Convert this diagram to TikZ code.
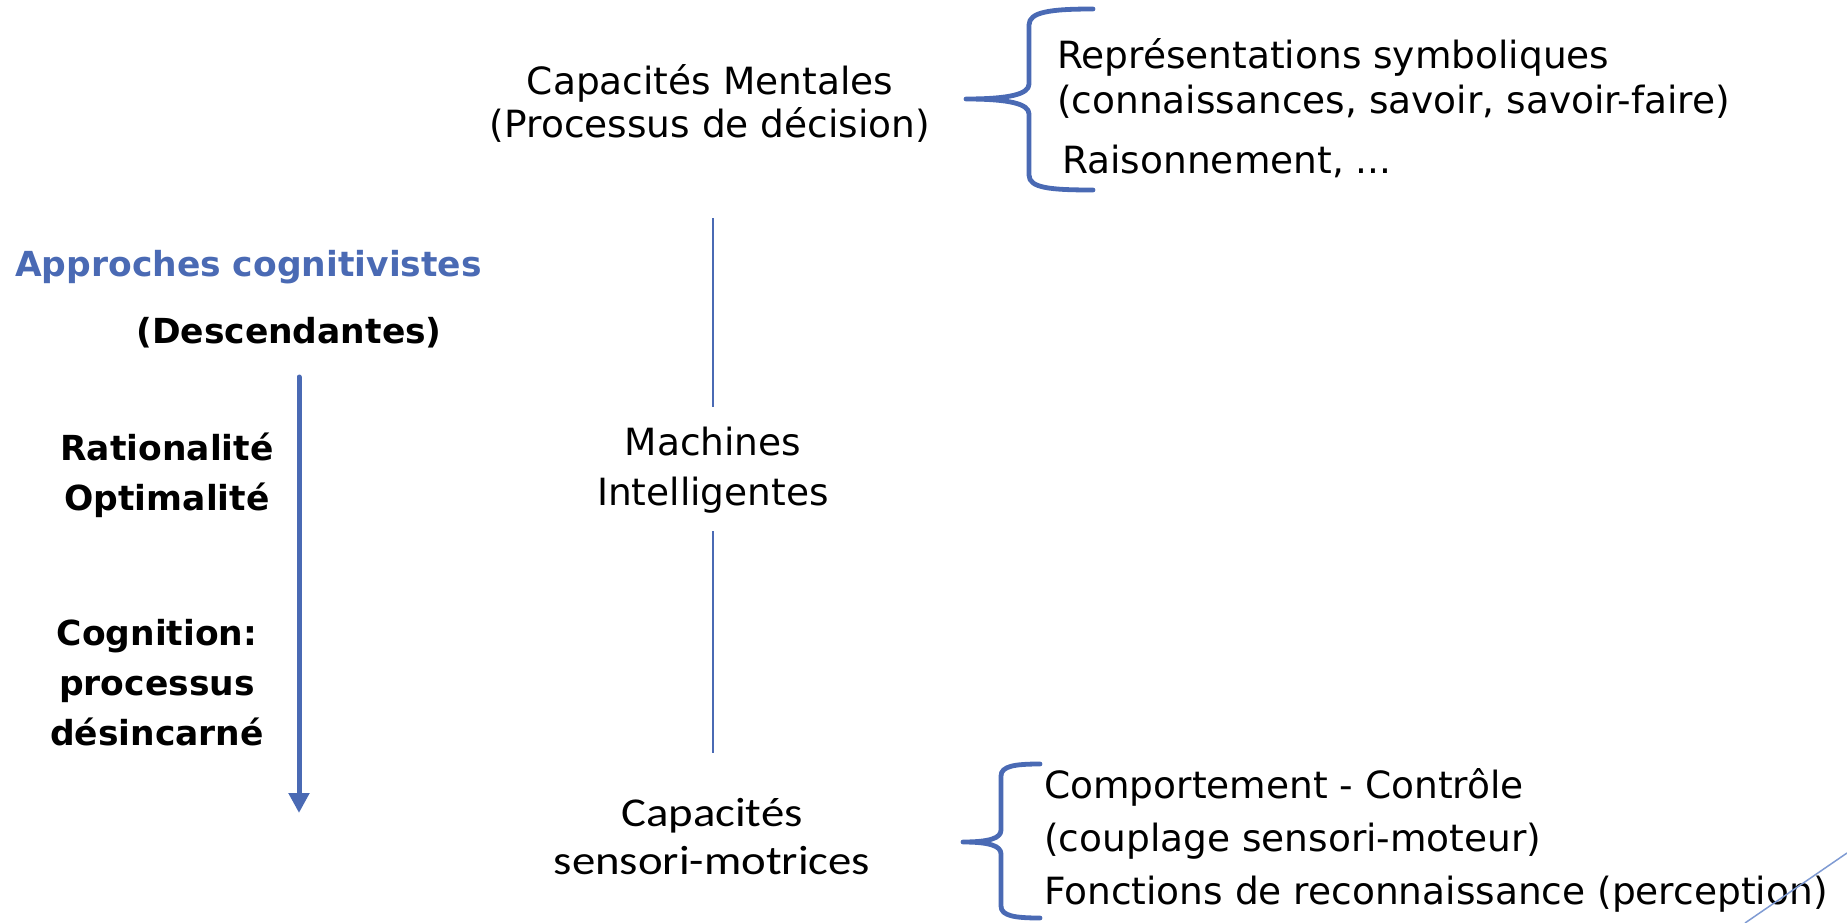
\documentclass[tikz,border=0pt]{standalone}
\usepackage{fontspec}
\setmainfont{DejaVu Sans}
\newfontfamily\carl[FakeStretch=1.14]{Carlito}
\usetikzlibrary{arrows.meta}
\definecolor{accent}{HTML}{4A6AB4}
\definecolor{thinblue}{HTML}{7F9BD3}

\begin{document}
\begin{tikzpicture}[x=1pt,y=-1pt,
  plain/.style={inner sep=0pt, align=center},
  midtxt/.style={plain, font=\fontsize{37.5}{43}\selectfont},
  listtxt/.style={inner sep=0pt, align=left, anchor=west},
  boldtxt/.style={plain, font=\fontsize{34.5}{50}\selectfont\bfseries},
  vline/.style={accent, line width=2.5pt},
  brace/.style={accent, line width=4.8pt, line cap=round, line join=round},
  axis/.style={accent, line width=5pt, line cap=round,
    -{Triangle[width=20pt,length=20pt]}}]
\useasboundingbox (0,0) rectangle (1847,923);

% central column
\node[midtxt] (capM) at (710,103) {Capacités Mentales\\(Processus de décision)};
\node[plain, font=\fontsize{37.5}{50}\selectfont] (machines) at (713,470) {Machines\\Intelligentes};
\node[plain, font=\carl\fontsize{41}{48}\selectfont] (capS) at (712,837) {Capacités\\sensori-motrices};
\draw[vline, shorten >=20pt] ([yshift=-76pt]capM.south -| machines.north) -- (machines.north);
\draw[vline, shorten <=18pt] (machines.south) -- ([yshift=46pt]machines.south |- capS.north);

% upper list and its brace
\node[listtxt, font=\fontsize{37.5}{45}\selectfont] (symb) at (1057,78) {Représentations symboliques\\(connaissances, savoir, savoir-faire)};
\node[listtxt, font=\fontsize{37.5}{45}\selectfont] (rais) at (1062,161) {Raisonnement, ...};
\draw[brace] (1093,9) .. controls (1050,9) and (1029,12) .. (1029,25)
  -- (1029,84) .. controls (1029,94) and (1010,99) .. (966,99)
  .. controls (1010,99) and (1029,104) .. (1029,114)
  -- (1029,175) .. controls (1029,188) and (1050,190) .. (1093,190);

% lower list and its brace
\node[listtxt, font=\fontsize{37.5}{53}\selectfont] (comp) at (1044,840) {Comportement - Contrôle\\(couplage sensori-moteur)\\Fonctions de reconnaissance (perception)};
\draw[brace] (1040,764) .. controls (1015,764) and (1001,766) .. (1001,776)
  -- (1001,830) .. controls (1001,838) and (990,842) .. (963,842)
  .. controls (990,842) and (1001,846) .. (1001,854)
  -- (1001,906) .. controls (1001,916) and (1015,918) .. (1040,918);

% left column
\node[boldtxt, text=accent, anchor=west] (appr) at (15,267) {Approches cognitivistes};
\node[boldtxt] (desc) at (289,333) {(Descendantes)};
\node[boldtxt] (ratio) at (167,475) {Rationalité\\Optimalité};
\node[boldtxt] (cogn) at (157,683) {Cognition:\\processus\\désincarné};
\coordinate (axisTop) at (299,377);
\coordinate (axisEnd) at (299,813);
\draw[axis] (axisTop) -- (axisEnd);

% corner stroke
\draw[thinblue, line width=1.5pt] (1745,923) -- (1847,853);
\end{tikzpicture}
\end{document}
